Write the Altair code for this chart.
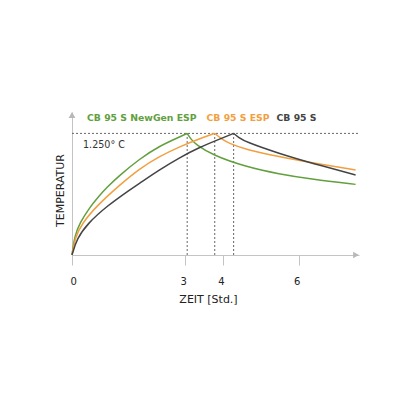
import altair as alt
import pandas as pd

# Series data (time in hours, temperature in °C): heating up to the peak, then cooling
green_name = "CB 95 S NewGen ESP"
green_t = [0, 0.07, 0.2, 0.48, 0.73, 0.92, 1.26, 1.79, 2.31, 2.84, 3.05,
           3.15, 3.28, 3.72, 4.6, 5.48, 6.36, 7.51]
green_T = [0, 196, 325, 496, 612, 694, 819, 988, 1119, 1212, 1250,
           1190, 1137, 1027, 907, 832, 778, 726]

orange_name = "CB 95 S ESP"
orange_t = [0, 0.09, 0.27, 0.64, 1.26, 1.79, 2.31, 2.84, 3.37, 3.78,
            3.95, 4.16, 4.6, 5.48, 6.37, 7.51]
orange_T = [0, 188, 325, 500, 719, 888, 1012, 1112, 1194, 1250,
            1195, 1147, 1085, 1010, 948, 873]

black_name = "CB 95 S"
black_t = [0, 0.13, 0.42, 0.9, 1.57, 1.79, 2.31, 2.84, 3.37, 3.9, 4.28,
           4.4, 4.6, 5.48, 6.37, 7.51]
black_T = [0, 170, 325, 496, 681, 738, 875, 1000, 1106, 1190, 1250,
           1212, 1163, 1044, 942, 822]

x_ticks = [0, 3, 4, 6]
x_max = 7.6
y_max = 1470

GREEN = "#62a03e"
ORANGE = "#f29f3f"
BLACK = "#444444"
GREY = "#c4c4c4"

rows = []
peaks = []
for name, ts, Ts in [(green_name, green_t, green_T), (orange_name, orange_t, orange_T),
                     (black_name, black_t, black_T)]:
    k = Ts.index(max(Ts))
    for i, (t, T) in enumerate(zip(ts, Ts)):
        if i <= k:
            rows.append({"series": name, "seg": name + " heat", "t": t, "T": T, "order": i})
        if i >= k:
            rows.append({"series": name, "seg": name + " cool", "t": t, "T": T, "order": i})
    peaks.append({"series": name, "t": ts[k], "T": Ts[k], "zero": 0})
df = pd.DataFrame(rows)
peak_df = pd.DataFrame(peaks)

W, H = 287, 143
xs = alt.Scale(domain=[0, x_max], nice=False, zero=False)
ys = alt.Scale(domain=[0, y_max], nice=False)
FONT = "DejaVu Sans"

base = alt.Chart(df)

axes = base.mark_line(opacity=0).encode(
    x=alt.X("t:Q", scale=xs, axis=alt.Axis(
        values=x_ticks, grid=False, domainColor=GREY, tickColor=GREY, tickSize=10,
        labelPadding=11, labelFontSize=10, labelColor="#222", labelFont=FONT, labelOffset=-2,
        title="ZEIT [Std.]", titleFontSize=11, titleFontWeight="normal", titleColor="#222",
        titleFont=FONT, titleX=136, titleY=44, titleBaseline="middle", format="d")),
    y=alt.Y("T:Q", scale=ys, axis=alt.Axis(
        ticks=False, labels=False, grid=False, domainColor=GREY,
        title="TEMPERATUR", titleFontSize=11, titleFontWeight="normal", titleColor="#222",
        titleFont=FONT, titleX=-12, titleY=78, titleBaseline="middle")),
)

hrule = alt.Chart(peak_df).transform_aggregate(T="max(T)").mark_rule(
    color="#666", strokeDash=[2, 2], strokeWidth=1).encode(
    y=alt.Y("T:Q", scale=ys), x=alt.value(0), x2=alt.value(W))

vrules = alt.Chart(peak_df).mark_rule(color="#666", strokeDash=[2, 2], strokeWidth=1).encode(
    x=alt.X("t:Q", scale=xs), y=alt.Y("zero:Q", scale=ys), y2="T:Q")

lines = base.mark_line(strokeWidth=1.5, interpolate="basis").encode(
    x=alt.X("t:Q", scale=xs),
    y=alt.Y("T:Q", scale=ys),
    order="order:Q",
    detail="seg:N",
    color=alt.Color("series:N", scale=alt.Scale(
        domain=[green_name, orange_name, black_name], range=[GREEN, ORANGE, BLACK]), legend=None),
)

arrow_up = alt.Chart(peak_df).transform_filter(alt.datum.series == green_name).mark_point(
    shape="triangle-up", filled=True, size=45, color="#b8b8b8", opacity=1).encode(
    x=alt.value(0), y=alt.value(3))
arrow_right = alt.Chart(peak_df).transform_filter(alt.datum.series == green_name).mark_point(
    shape="triangle-right", filled=True, size=45, color="#b8b8b8", opacity=1).encode(
    x=alt.value(W - 3), y=alt.value(H))

def label(text, x, y, color, bold=True, size=9.3):
    return alt.Chart(peak_df).transform_filter(alt.datum.series == green_name).mark_text(
        text=text, align="left", baseline="middle", font=FONT,
        fontWeight="bold" if bold else "normal", fontSize=size, color=color).encode(
        x=alt.value(x), y=alt.value(y))

labels = (label(green_name, 15, 5.5, GREEN) + label(orange_name, 134.5, 5.5, ORANGE)
          + label(black_name, 204.5, 5.5, BLACK)
          + label("1.250° C", 11, 32.5, "#333", bold=False, size=9.6))

chart = alt.layer(axes, hrule, vrules, lines, arrow_up, arrow_right, labels).properties(
    width=W, height=H,
    padding={"left": 72, "top": 112, "right": 57, "bottom": 161},
    autosize=alt.AutoSizeParams(type="none"),
).configure_view(stroke=None)

chart.save("out.html", embed_options={"renderer": "svg", "actions": False})
